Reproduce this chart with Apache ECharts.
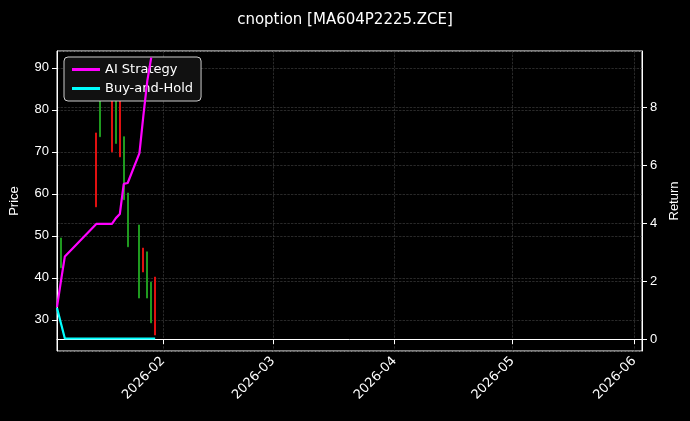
<!DOCTYPE html>
<html>
<head>
<meta charset="utf-8">
<script src="https://cdn.jsdelivr.net/npm/echarts@6/dist/echarts.min.js"></script>
<style>html,body{margin:0;background:#000}#main{width:690px;height:421px}</style>
</head>
<body>
<div id="main"></div>
<script>
// candles: date, open, close, low, high
var candleDates = ['2026-01-06','2026-01-15','2026-01-16','2026-01-19','2026-01-20','2026-01-21','2026-01-22','2026-01-23','2026-01-26','2026-01-27','2026-01-28','2026-01-29','2026-01-30'];
var candleOpen  = [42.4, 74.5, 73.6, 83.5, 72.0, 82.4, 58.6, 47.4, 35.2, 47.1, 35.2, 29.3, 40.2];
var candleClose = [49.5, 56.9, 84.5, 70.0, 84.5, 68.8, 73.6, 60.2, 52.6, 41.4, 46.2, 39.0, 26.4];

var stratDates = ['2026-01-05','2026-01-06','2026-01-07','2026-01-15','2026-01-19','2026-01-20','2026-01-21','2026-01-22','2026-01-23','2026-01-26','2026-01-27','2026-01-28','2026-01-29'];
var stratRet   = [1.1, 2.0, 2.85, 3.97, 3.97, 4.17, 4.31, 5.35, 5.38, 6.41, 7.7, 8.9, 9.7];

var bhDates = ['2026-01-05','2026-01-07','2026-01-30'];
var bhRet   = [1.07, 0.02, 0.02];

var candleData = candleDates.map(function (d, i) {
    var o = candleOpen[i], c = candleClose[i];
    return [d, o, c, Math.min(o, c), Math.max(o, c)];
});

var chart = echarts.init(document.getElementById('main'));
var white = '#ffffff';
var grid = {lineStyle: {color: '#444', type: 'dashed', width: 0.6}};
chart.setOption({
    backgroundColor: '#000',
    title: {text: 'cnoption [MA604P2225.ZCE]', left: 'center', top: 8,
        textStyle: {color: white, fontSize: 15, fontWeight: 'normal', fontFamily: 'DejaVu Sans'}},
    legend: {left: 64, top: 57, orient: 'vertical', itemGap: 6, itemWidth: 28, itemHeight: 3,
        backgroundColor: '#111', borderColor: '#ccc', borderWidth: 1, borderRadius: 4, padding: [6, 8],
        textStyle: {color: white, fontSize: 13, fontFamily: 'DejaVu Sans'},
        data: [{name: 'AI Strategy', icon: 'rect'}, {name: 'Buy-and-Hold', icon: 'rect'}]},
    grid: {left: 57, right: 48, top: 51, bottom: 70, show: true, borderColor: white, borderWidth: 1},
    xAxis: {type: 'time', min: '2026-01-05', max: '2026-06-03', splitNumber: 5,
        axisLine: {lineStyle: {color: white}}, axisTick: {lineStyle: {color: white}},
        axisLabel: {color: white, rotate: 45, fontSize: 13, formatter: '{yyyy}-{MM}',
            showMinLabel: false, showMaxLabel: false, fontFamily: 'DejaVu Sans'},
        splitLine: Object.assign({show: true}, grid)},
    yAxis: [{type: 'value', min: 22.6, max: 94, splitNumber: 7, name: 'Price', nameLocation: 'middle', nameGap: 36,
        nameTextStyle: {color: white, fontSize: 13},
        axisLine: {show: true, lineStyle: {color: white}}, axisTick: {show: true},
        axisLabel: {color: white, fontSize: 13, showMinLabel: false, showMaxLabel: false},
        splitLine: Object.assign({show: true}, grid)},
        {type: 'value', min: -0.41, max: 9.93, splitNumber: 5, name: 'Return', nameLocation: 'middle', nameGap: 26,
        nameTextStyle: {color: white, fontSize: 13},
        axisLine: {show: true, lineStyle: {color: white}}, axisTick: {show: true},
        axisLabel: {color: white, fontSize: 13, showMinLabel: false, showMaxLabel: false},
        splitLine: Object.assign({show: true}, grid)}],
    series: [
        {name: 'Price', type: 'candlestick', data: candleData, barWidth: 1.5,
            itemStyle: {color: '#1f9a1f', color0: '#e01010', borderColor: '#1f9a1f', borderColor0: '#e01010'}},
        {name: 'AI Strategy', type: 'line', yAxisIndex: 1, showSymbol: false, z: 5,
            data: stratDates.map(function (d, i) { return [d, stratRet[i]]; }),
            lineStyle: {color: '#ff00ff', width: 2.2}, itemStyle: {color: '#ff00ff'}},
        {name: 'Buy-and-Hold', type: 'line', yAxisIndex: 1, showSymbol: false, z: 5,
            data: bhDates.map(function (d, i) { return [d, bhRet[i]]; }),
            lineStyle: {color: '#00ffff', width: 2.2}, itemStyle: {color: '#00ffff'}}
    ]
});
</script>
</body>
</html>
